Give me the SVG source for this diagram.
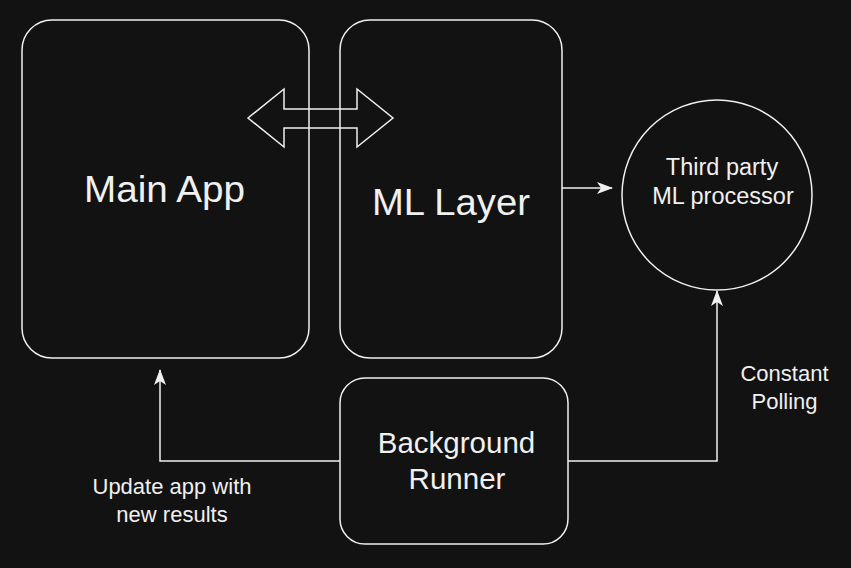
<svg xmlns="http://www.w3.org/2000/svg" width="851" height="568" viewBox="0 0 851 568">
<style>
.b{fill:none;stroke:#f0f0f0;stroke-width:1.5}
.t{fill:#f0f0f0;font-family:"Liberation Sans",Arial,sans-serif;text-anchor:middle}
.c{fill:none;stroke:#f0f0f0;stroke-width:1.5}
</style>
<defs>
<marker id="ah" viewBox="0 0 16 12" refX="15" refY="6" markerWidth="16" markerHeight="12" markerUnits="userSpaceOnUse" orient="auto">
<path d="M0,0 L16,6 L0,12 L4,6 Z" fill="#f0f0f0"/>
</marker>
</defs>
<rect width="851" height="568" fill="#121212"/>
<g id="main-app"><rect class="b" x="22" y="20" width="287" height="338" rx="30"/><text class="t" x="164.5" y="202" font-size="37" textLength="161" lengthAdjust="spacingAndGlyphs">Main App</text></g>
<g id="ml-layer"><rect class="b" x="340" y="20" width="222" height="338" rx="30"/><text class="t" x="451" y="215" font-size="37" textLength="158" lengthAdjust="spacingAndGlyphs">ML Layer</text></g>
<g id="third-party"><circle class="b" cx="717" cy="195" r="95"/><text class="t" x="722" y="175" font-size="23.5">Third party</text><text class="t" x="723" y="203.5" font-size="23.5">ML processor</text></g>
<g id="background-runner"><rect class="b" x="340" y="378" width="228" height="166" rx="25"/><text class="t" x="456.5" y="452.5" font-size="29.5">Background</text><text class="t" x="457" y="489" font-size="29.5">Runner</text></g>
<g id="connectors">
<path class="b" d="M248,118 L284,89 L284,109 L357,109 L357,89 L393,118 L357,147 L357,128 L284,128 L284,147 Z"/>
<path class="c" d="M562,188 L612,188" marker-end="url(#ah)"/>
<path class="c" d="M568,461 L717,461 L717,291" marker-end="url(#ah)"/>
<path class="c" d="M340,461 L160,461 L160,370" marker-end="url(#ah)"/>
<text class="t" x="172" y="494" font-size="22">Update app with</text>
<text class="t" x="172" y="521.5" font-size="22">new results</text>
<text class="t" x="784.5" y="381" font-size="22">Constant</text>
<text class="t" x="784.5" y="408.5" font-size="22">Polling</text>
</g>
</svg>
